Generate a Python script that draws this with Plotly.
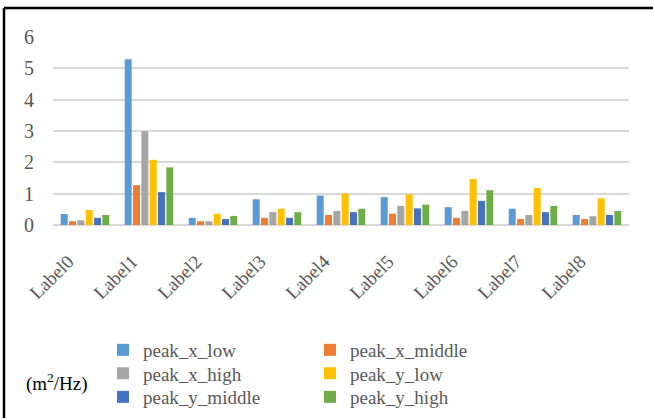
import plotly.graph_objects as go

# Spectral peak values per label (m^2/Hz)
categories = ["Label0", "Label1", "Label2", "Label3", "Label4",
              "Label5", "Label6", "Label7", "Label8"]
peak_x_low = [0.35, 5.29, 0.23, 0.82, 0.94, 0.89, 0.57, 0.52, 0.32]
peak_x_middle = [0.12, 1.27, 0.12, 0.23, 0.32, 0.36, 0.23, 0.19, 0.19]
peak_x_high = [0.15, 2.99, 0.12, 0.41, 0.45, 0.61, 0.45, 0.32, 0.28]
peak_y_low = [0.48, 2.08, 0.36, 0.52, 1.01, 0.98, 1.47, 1.18, 0.85]
peak_y_middle = [0.23, 1.05, 0.19, 0.23, 0.41, 0.53, 0.77, 0.41, 0.32]
peak_y_high = [0.32, 1.84, 0.29, 0.41, 0.52, 0.65, 1.11, 0.61, 0.45]
y_ticks = [0, 1, 2, 3, 4, 5, 6]

# (name, values, colour, legend row)
series = [
    ("peak_x_low", peak_x_low, "#5B9BD5", "legend"),
    ("peak_x_middle", peak_x_middle, "#ED7D31", "legend"),
    ("peak_x_high", peak_x_high, "#A5A5A5", "legend2"),
    ("peak_y_low", peak_y_low, "#FFC000", "legend2"),
    ("peak_y_middle", peak_y_middle, "#4472C4", "legend3"),
    ("peak_y_high", peak_y_high, "#70AD47", "legend3"),
]

W, H = 653, 418
L, R, T, B = 53, 24, 37, 193
PW, PH = W - L - R, H - T - B


def px_x(px):
    return (px - L) / PW


def px_y(py):
    return (H - B - py) / PH


fig = go.Figure()
for name, vals, color, leg in series:
    fig.add_trace(go.Bar(x=categories, y=vals, name=name, legend=leg,
                         marker=dict(color=color, line=dict(width=0))))

font_family = "Liberation Serif"
text_color = "#595959"


def legend_row(center_py):
    return dict(
        orientation="h", x=px_x(103), xanchor="left",
        y=px_y(center_py), yanchor="middle",
        entrywidth=162, entrywidthmode="pixels",
        itemwidth=30, tracegroupgap=0, borderwidth=0,
        font=dict(family=font_family, size=19, color=text_color),
        bgcolor="rgba(0,0,0,0)",
    )


# Rotated category labels, padded so they sit a little left of each tick
tick_text = [c + "\u00a0" * 5 for c in categories]

fig.update_layout(
    width=W, height=H,
    margin=dict(l=L, r=R, t=T, b=B, pad=0, autoexpand=False),
    paper_bgcolor="white", plot_bgcolor="white",
    barmode="group", bargap=0.22, bargroupgap=0.16,
    font=dict(family=font_family, size=19, color=text_color),
    showlegend=True,
    legend=legend_row(350),
    legend2=legend_row(373.5),
    legend3=legend_row(397),
    xaxis=dict(
        tickangle=-45, showgrid=False, showline=False, ticks="",
        tickmode="array", tickvals=categories, ticktext=tick_text,
        ticklabelstandoff=4,
        tickfont=dict(family=font_family, size=19, color=text_color),
    ),
    yaxis=dict(
        range=[0, 6], tickvals=y_ticks, showgrid=True,
        gridcolor="#D9D9D9", gridwidth=1.5, zeroline=True,
        zerolinecolor="#D9D9D9", zerolinewidth=1.5, showline=False,
        ticks="", ticklabelstandoff=18,
        tickfont=dict(family=font_family, size=20, color=text_color),
    ),
)

# Unit label beside the legend
fig.add_annotation(
    text="(m<sup>2</sup>/Hz)", xref="paper", yref="paper",
    x=px_x(24), y=px_y(382), xanchor="left", yanchor="middle",
    showarrow=False,
    font=dict(family=font_family, size=19, color="#000000"),
)

# Frame along the top and left edges
fig.add_shape(type="line", xref="paper", yref="paper",
              x0=px_x(4), x1=px_x(W + 5), y0=px_y(8), y1=px_y(8),
              line=dict(color="black", width=2.5))
fig.add_shape(type="line", xref="paper", yref="paper",
              x0=px_x(4), x1=px_x(4), y0=px_y(8), y1=px_y(H + 5),
              line=dict(color="black", width=2.5))

fig.write_html("out.html")
